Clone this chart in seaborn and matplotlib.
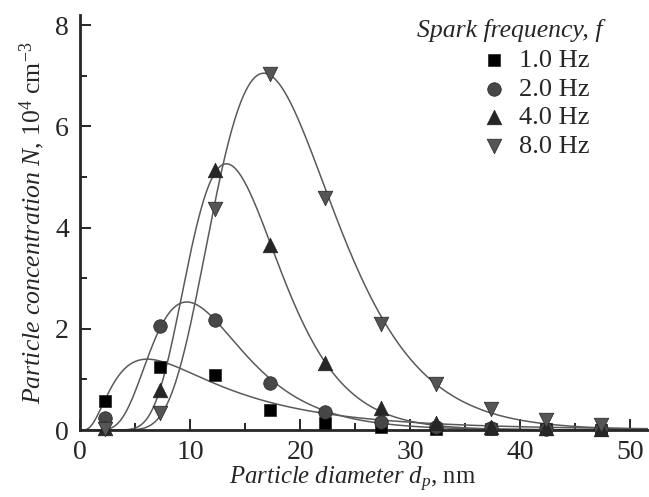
import numpy as np
import pandas as pd
import matplotlib
matplotlib.use("Agg")
import matplotlib.pyplot as plt
from matplotlib.ticker import MultipleLocator
import seaborn as sns

diameters = [2.3, 7.3, 12.3, 17.3, 22.3, 27.3, 32.3, 37.3, 42.3, 47.3]
conc_1hz = [0.57, 1.25, 1.08, 0.39, 0.13, 0.06, 0.02, 0.01, 0.01, 0.00]
conc_2hz = [0.24, 2.06, 2.17, 0.92, 0.36, 0.16, 0.05, 0.03, 0.01, 0.01]
conc_4hz = [0.03, 0.80, 5.14, 3.66, 1.33, 0.44, 0.14, 0.06, 0.03, 0.02]
conc_8hz = [0.02, 0.33, 4.37, 7.04, 4.58, 2.10, 0.91, 0.41, 0.20, 0.10]

labels = ["1.0 Hz", "2.0 Hz", "4.0 Hz", "8.0 Hz"]

# log-normal fit curves: peak height, mode diameter, sharpness
fit_peak = [1.40, 2.53, 5.26, 7.05]
fit_mode = [6.1, 9.7, 13.3, 16.7]
fit_k = [0.87, 2.75, 5.15, 4.7]

markers = ["s", "o", "^", "v"]
colors = ["#000000", "#474747", "#262626", "#555555"]
sizes = [70, 95, 110, 110]

sns.set_style("ticks")
plt.rcParams["font.family"] = ["Liberation Serif", "DejaVu Serif"]
plt.rcParams["mathtext.fontset"] = "custom"
plt.rcParams["mathtext.rm"] = "Liberation Serif"
plt.rcParams["mathtext.it"] = "Liberation Serif:italic"

fig = plt.figure(figsize=(6.49, 4.97), dpi=100)
ax = fig.add_axes([80 / 649, 67 / 497, 568 / 649, 415 / 497])

# fitted curves
d = np.linspace(0.05, 52, 800)
for A, dm, k in zip(fit_peak, fit_mode, fit_k):
    curve = pd.DataFrame({"d": d, "N": A * np.exp(-k * np.log(d / dm) ** 2)})
    sns.lineplot(data=curve, x="d", y="N", ax=ax, color="#5a5a5a", lw=1.1,
                 legend=False, zorder=2)

# data points
series = [conc_1hz, conc_2hz, conc_4hz, conc_8hz]
for vals, lab, m, c, s in zip(series, labels, markers, colors, sizes):
    sns.scatterplot(x=diameters, y=vals, ax=ax, marker=m, color=c, s=s,
                    edgecolor="#222222", linewidth=0.5, label=lab, zorder=3,
                    clip_on=False)

ax.set_xlim(0, 51.6)
ax.set_ylim(0, 8.2)
ax.xaxis.set_major_locator(MultipleLocator(10))
ax.xaxis.set_minor_locator(MultipleLocator(5))
ax.yaxis.set_major_locator(MultipleLocator(2))
ax.yaxis.set_minor_locator(MultipleLocator(1))
ax.tick_params(which="both", direction="in", top=False, right=False,
               labelsize=20, width=1.4)
ax.tick_params(axis="y", pad=8)
ax.tick_params(axis="x", pad=7)
ax.tick_params(which="major", length=8)
ax.tick_params(which="minor", length=5)
for side in ["top", "right"]:
    ax.spines[side].set_visible(False)
for side in ["left", "bottom"]:
    ax.spines[side].set_linewidth(2)

ax.set_xlabel(r"$\mathit{Particle\ diameter\ d_p}$, nm", fontsize=17.8,
              labelpad=3)
ax.xaxis.set_label_coords(0.48, -0.085)
ax.set_ylabel(r"$\mathit{Particle\ concentration\ N}$, $10^4$ cm$^{-3}$",
              fontsize=18.5, labelpad=6)

ax.text(0.593, 0.99, "Spark frequency, f", transform=ax.transAxes,
        fontsize=18.5, fontstyle="italic", va="top", ha="left")
ax.legend(loc="upper left", bbox_to_anchor=(0.682, 0.945), frameon=False,
          fontsize=19, handletextpad=0.35, labelspacing=0.2,
          borderaxespad=0, handlelength=1.2)

fig.savefig("out.png", dpi=100)
